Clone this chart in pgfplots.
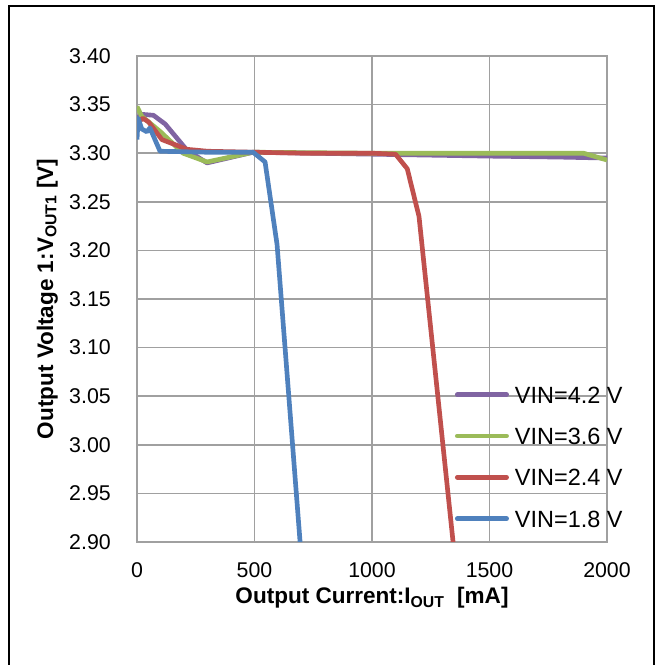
\documentclass[border=0pt]{standalone}
\usepackage{fontspec}
\setmainfont{Liberation Sans}
\usepackage{pgfplots}
\pgfplotsset{compat=1.18}
\definecolor{cPurple}{HTML}{8064A2}
\definecolor{cGreen}{HTML}{9BBB59}
\definecolor{cRed}{HTML}{C0504D}
\definecolor{cBlue}{HTML}{4F81BD}
\definecolor{gridgray}{HTML}{A0A0A0}
\begin{document}
\begin{tikzpicture}
\path[use as bounding box] (0,0) rectangle (498.75pt,498.75pt);
\draw[line width=2pt] (6.75pt,-10pt) rectangle (490.5pt,494.25pt);
\begin{axis}[
  at={(102.75pt,92.25pt)}, anchor=south west,
  scale only axis, width=352.5pt, height=364.5pt,
  xmin=0, xmax=2000, ymin=2.9, ymax=3.4,
  xtick={0,500,1000,1500,2000},
  ytick={2.90,2.95,3.00,3.05,3.10,3.15,3.20,3.25,3.30,3.35,3.40},
  grid=major,
  major grid style={gridgray, line width=1.1pt},
  axis line style={gridgray, line width=1.1pt},
  major tick length=0pt,
  tick label style={font=\fontsize{16}{18}\selectfont},
  /pgf/number format/assume math mode=true,
  yticklabel style={/pgf/number format/fixed, /pgf/number format/fixed zerofill, /pgf/number format/precision=2, anchor=east, inner sep=0pt, xshift=-19.5pt},
  xticklabel style={/pgf/number format/set thousands separator={}, anchor=north, inner sep=0pt, yshift=-15pt},
  label style={font=\bfseries\fontsize{16.9}{20}\selectfont},
  xlabel={Output Current:I\textsubscript{OUT}\ \ [mA]},
  xlabel style={at={(axis description cs:0.5,0)}, anchor=base, inner sep=0pt, yshift=-46.5pt},
  ylabel={Output Voltage 1:V\textsubscript{OUT1} [V]},
  ylabel style={at={(axis description cs:-0.1787,0.5)}, anchor=base, inner sep=0pt},
  legend cell align=left,
  legend image code/.code={\draw[#1, line cap=round] (0pt,1.8pt) -- (37pt,1.8pt);},
  legend style={draw=none, fill=none, at={(0.6765,0.3216)}, anchor=north west,
    inner sep=0pt, outer sep=0pt, row sep=14pt, column sep=4.5pt,
    font=\fontsize{17.6}{20}\selectfont,
    nodes={inner sep=0pt, text height=13pt, text depth=4pt}},
  every axis plot/.append style={line width=3.5pt, line join=round, mark=none},
]
\addplot[cPurple] coordinates {
 (0,3.336) (20,3.340) (70,3.339) (120,3.330) (213,3.303) (298,3.290)
 (494,3.301) (1000,3.299) (1500,3.297) (1800,3.296) (2000,3.295)};
\addlegendentry{VIN=4.2 V}
\addplot[cGreen] coordinates {
 (0,3.348) (20,3.338) (50,3.332) (100,3.322) (196,3.300) (298,3.291)
 (494,3.301) (1000,3.300) (1500,3.300) (1900,3.300) (2000,3.293)};
\addlegendentry{VIN=3.6 V}
\addplot[cRed] coordinates {
 (0,3.331) (25,3.336) (50,3.332) (106,3.314) (213,3.304) (300,3.302)
 (500,3.301) (700,3.300) (1000,3.300) (1100,3.299) (1150,3.284)
 (1200,3.235) (1345,2.900) (1360,2.86)};
\addlegendentry{VIN=2.4 V}
\addplot[cBlue] coordinates {
 (0,3.314) (5,3.336) (20,3.325) (42,3.322) (55,3.326) (64,3.321)
 (98,3.302) (300,3.301) (494,3.301) (545,3.291) (596,3.206)
 (694,2.900) (700,2.88)};
\addlegendentry{VIN=1.8 V}
\end{axis}
\end{tikzpicture}
\end{document}
